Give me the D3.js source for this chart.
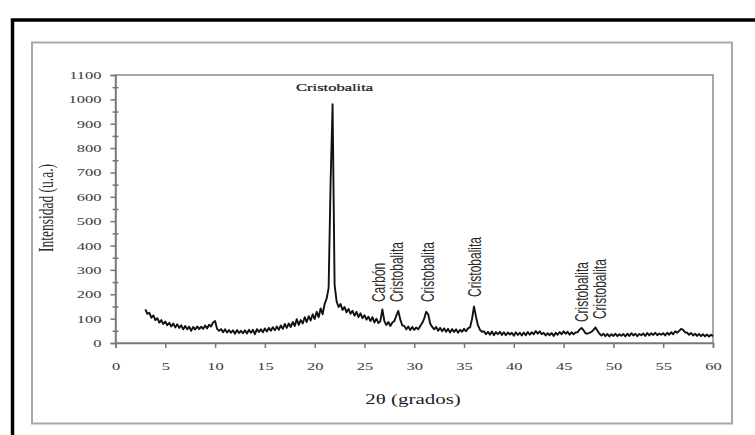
<!DOCTYPE html>
<html lang="es">
<head>
	<meta charset="utf-8">
	<title>Difractograma</title>
	<script src="https://d3js.org/d3.v7.min.js"></script>
	<style>
	body { margin: 0; background: #fff; }
	</style>
</head>
<body>
	<script>
	// Scan data: one reading every 0.2 degrees from 3 to 60
	var scanStart = 3.0;
	var scanStep = 0.2;
	var intensity = [
		138, 120, 124, 104, 113,  94, 102,  84,  94,  78,   // 3.0
		 88,  73,  83,  68,  80,  64,  77,  62,  73,  56,   // 5.0
		 70,  56,  67,  50,  66,  55,  68,  57,  67,  58,   // 7.0
		 72,  60,  75,  68,  84,  90,  58,  50,  57,  44,   // 9.0
		 56,  43,  53,  42,  52,  38,  53,  41,  50,  40,   // 11.0
		 52,  39,  54,  42,  54,  36,  57,  45,  56,  44,   // 13.0
		 60,  47,  62,  50,  65,  52,  68,  54,  72,  58,   // 15.0
		 78,  62,  80,  66,  86,  70,  98,  74,  94,  80,   // 17.0
		106,  86, 110,  92, 118,  98, 128, 106, 142, 118,   // 19.0
		160, 182, 225, 660, 980, 240, 172, 148, 160, 136,   // 21.0
		148, 126, 140, 120, 132, 112, 128, 106, 122, 102,   // 23.0
		114,  96, 108,  90, 106,  84, 100,  82,  90, 138,   // 25.0
		 90,  74,  86,  70,  84,  90, 112, 132,  96,  72,   // 27.0
		 70,  56,  68,  53,  66,  54,  64,  56,  70,  82,   // 29.0
		100, 128, 118,  80,  66,  56,  66,  50,  62,  48,   // 31.0
		 60,  46,  58,  43,  57,  45,  56,  42,  54,  46,   // 33.0
		 58,  48,  60,  64,  98, 150, 108,  72,  54,  46,   // 35.0
		 48,  36,  46,  34,  47,  32,  45,  36,  46,  33,   // 37.0
		 44,  32,  43,  35,  42,  30,  44,  33,  42,  31,   // 39.0
		 43,  32,  45,  34,  44,  36,  49,  38,  48,  36,   // 41.0
		 42,  31,  40,  32,  41,  29,  42,  34,  45,  36,   // 43.0
		 48,  38,  46,  34,  44,  36,  43,  44,  55,  62,   // 45.0
		 52,  40,  38,  42,  46,  54,  64,  50,  38,  31,   // 47.0
		 38,  28,  37,  27,  36,  29,  38,  28,  36,  30,   // 49.0
		 37,  27,  38,  29,  40,  31,  38,  28,  37,  32,   // 51.0
		 39,  29,  41,  31,  40,  33,  42,  32,  39,  34,   // 53.0
		 40,  31,  42,  34,  44,  36,  48,  42,  50,  58,   // 55.0
		 54,  44,  42,  34,  41,  31,  38,  29,  37,  28,   // 57.0
		 36,  27,  35,  26,  34,  28                        // 59.0
	];

	var xTicks = [0, 5, 10, 15, 20, 25, 30, 35, 40, 45, 50, 55, 60];
	var yTicks = [0, 100, 200, 300, 400, 500, 600, 700, 800, 900, 1000, 1100];

	// peak names written upright next to the peaks
	var peakLabels = ["Carbón", "Cristobalita", "Cristobalita", "Cristobalita", "Cristobalita", "Cristobalita"];
	var peakLabelAngles = [27.1, 28.9, 32.0, 36.7, 47.4, 49.3];
	var peakLabelLevels = [168, 168, 168, 189, 86, 98];

	var mainLabel = "Cristobalita";
	var mainLabelAngle = 22.0;
	var mainLabelLevel = 1033;

	var w = 755;
	var h = 435;
	var stretch = 1.5; // the original picture is widened horizontally

	var data = intensity.map(function(v, i) {
		return { angle: scanStart + i * scanStep, value: v };
	});

	var xScale = d3.scaleLinear().domain([0, 60]).range([115.5, 713]);
	var yScale = d3.scaleLinear().domain([0, 1100]).range([343, 75]);

	var svg = d3.select("body")
		.append("svg")
		.attr("width", w)
		.attr("height", h);

	// outer black frame (runs off the picture right and bottom)
	svg.append("rect")
		.attr("x", 12.5).attr("y", 20)
		.attr("width", 900).attr("height", 600)
		.attr("fill", "none")
		.attr("stroke", "#000")
		.attr("stroke-width", 3.5);

	// gray chart frame
	svg.append("rect")
		.attr("x", 32).attr("y", 42.5)
		.attr("width", 700).attr("height", 381)
		.attr("fill", "none")
		.attr("stroke", "#a8a8a8")
		.attr("stroke-width", 2);

	// plot box
	svg.append("rect")
		.attr("x", xScale(0)).attr("y", yScale(1100))
		.attr("width", xScale(60) - xScale(0))
		.attr("height", yScale(0) - yScale(1100))
		.attr("fill", "none")
		.attr("stroke", "#8a8a8a")
		.attr("stroke-width", 1.5);

	// y axis, major and minor ticks
	var yAxis = svg.append("g")
		.attr("transform", "translate(" + xScale(0) + ",0)")
		.call(d3.axisLeft(yScale).tickValues(yTicks).tickSize(5).tickPadding(9).tickFormat(d3.format("d")));

	svg.append("g")
		.attr("transform", "translate(" + (xScale(0) + 3) + ",0)")
		.call(d3.axisLeft(yScale).tickValues(yTicks.slice(0, -1).map(function(d) { return d + 50; }))
			.tickSize(6).tickFormat(""))
		.call(function(g) { g.select(".domain").remove(); });

	var xAxis = svg.append("g")
		.attr("transform", "translate(0," + yScale(0) + ")")
		.call(d3.axisBottom(xScale).tickValues(xTicks).tickSize(5).tickPadding(14));

	svg.selectAll(".domain, .tick line")
		.attr("stroke", "#777")
		.attr("stroke-width", 1.5);

	svg.selectAll(".tick text")
		.attr("font-family", "'Liberation Serif', 'Times New Roman', serif")
		.attr("font-size", 11)
		.attr("fill", "#3a3a3a");

	yAxis.selectAll(".tick text")
		.attr("x", -14 / stretch)
		.attr("transform", "scale(" + stretch + ",1)");
	xAxis.selectAll(".tick text")
		.attr("transform", "scale(" + stretch + ",1)");

	// scan trace
	var line = d3.line()
		.x(function(d) { return xScale(d.angle); })
		.y(function(d) { return yScale(d.value); });

	svg.append("path")
		.datum(data)
		.attr("d", line)
		.attr("fill", "none")
		.attr("stroke", "#111")
		.attr("stroke-width", 1.9)
		.attr("stroke-linejoin", "round");

	// axis titles
	svg.append("text")
		.attr("transform", "translate(413,404) scale(" + stretch + ",1)")
		.attr("text-anchor", "middle")
		.attr("font-family", "'Liberation Serif', serif")
		.attr("font-size", 14)
		.attr("fill", "#1c1c2a")
		.text("2θ (grados)");

	svg.append("text")
		.attr("transform", "translate(53,208) scale(" + stretch + ",1) rotate(-90)")
		.attr("text-anchor", "middle")
		.attr("font-family", "'Liberation Serif', serif")
		.attr("font-size", 13.5)
		.attr("fill", "#2a2a2a")
		.text("Intensidad (u.a.)");

	// peak labels
	svg.append("text")
		.attr("transform", "translate(" + xScale(mainLabelAngle) + "," + yScale(mainLabelLevel) + ") scale(" + stretch + ",1)")
		.attr("text-anchor", "middle")
		.attr("font-family", "'Liberation Serif', serif")
		.attr("font-size", 11)
		.attr("fill", "#222")
		.attr("stroke", "#222")
		.attr("stroke-width", 0.25)
		.text(mainLabel);

	svg.selectAll(".peak")
		.data(peakLabels)
		.enter()
		.append("text")
		.attr("class", "peak")
		.attr("transform", function(d, i) {
			return "translate(" + xScale(peakLabelAngles[i]) + "," + yScale(peakLabelLevels[i]) +
				") scale(" + stretch + ",1) rotate(-90)";
		})
		.attr("font-family", "'Liberation Sans', Arial, sans-serif")
		.attr("font-size", 12)
		.attr("fill", "#2a2a2a")
		.text(function(d) { return d; });
	</script>
</body>
</html>
